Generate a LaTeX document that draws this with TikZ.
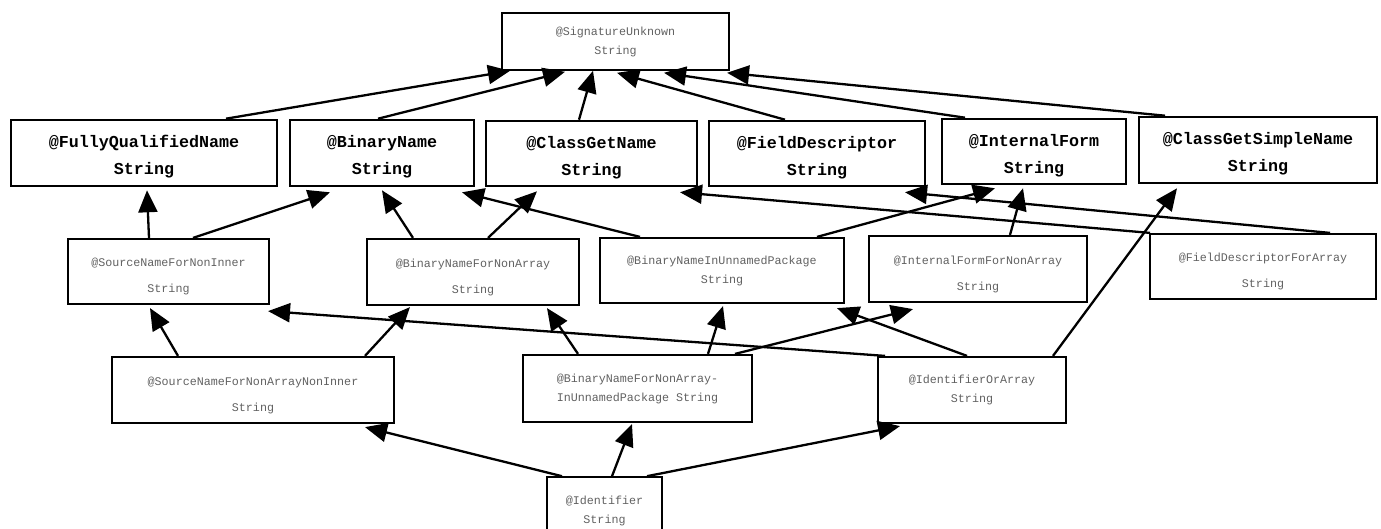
\documentclass[tikz,border=0pt]{standalone}
\usepackage{fontspec}
\setmonofont{Liberation Mono}
\usetikzlibrary{arrows.meta}

\tikzset{
  every node/.style={align=center, inner sep=0pt},
  namebox/.style={draw, line width=2.6pt, text=black,
    font=\ttfamily\bfseries\fontsize{16.7}{27}\selectfont,
    execute at begin node={\rule{0pt}{47.5pt}}},
  subbox/.style={draw, line width=2.2pt, text=black!62,
    font=\ttfamily\fontsize{11.7}{26}\selectfont,
    execute at begin node={\rule{0pt}{44.5pt}}},
  subboxtight/.style={draw, line width=2.2pt, text=black!62,
    font=\ttfamily\fontsize{11.7}{19}\selectfont},
  endbox/.style={subboxtight, line width=1.6pt},
  link/.style={line width=2.3pt, -{Triangle[length=22pt,width=19pt]}},
}

\begin{document}
\begin{tikzpicture}[x=1pt, y=-1pt]
\useasboundingbox (0,0) rectangle (1381,529);
\clip (0,0) rectangle (1381,529);

% top of the hierarchy
\node[endbox, minimum width=227pt, minimum height=57pt] (sig) at (615.5,41.5)
  {@SignatureUnknown\\String};

% main qualifiers
\node[namebox, minimum width=266pt, minimum height=66pt] (fqn) at (144,153)
  {@FullyQualifiedName\\String};
\node[namebox, minimum width=184pt, minimum height=66pt] (bn) at (382,153)
  {@BinaryName\\String};
\node[namebox, minimum width=211pt, minimum height=65pt] (cgn) at (591.5,153.5)
  {@ClassGetName\\String};
\node[namebox, minimum width=216pt, minimum height=65pt] (fd) at (817,153.5)
  {@FieldDescriptor\\String};
\node[namebox, minimum width=184pt, minimum height=65pt] (inf) at (1034,151.5)
  {@InternalForm\\String};
\node[namebox, minimum width=238pt, minimum height=66pt] (cgsn) at (1258,150)
  {@ClassGetSimpleName\\String};

% intermediate qualifiers
\node[subbox, minimum width=201pt, minimum height=65pt] (sn) at (168.5,271.5)
  {@SourceNameForNonInner\\String};
\node[subbox, minimum width=212pt, minimum height=66pt] (bnna) at (473,272)
  {@BinaryNameForNonArray\\String};
\node[subboxtight, minimum width=244pt, minimum height=65pt] (bniup) at (722,270.5)
  {@BinaryNameInUnnamedPackage\\String};
\node[subbox, minimum width=218pt, minimum height=66pt] (ifna) at (978,269)
  {@InternalFormForNonArray\\String};
\node[subbox, minimum width=226pt, minimum height=65pt] (fda) at (1263,266.5)
  {@FieldDescriptorForArray\\String};

\node[subbox, minimum width=282pt, minimum height=66pt] (snna) at (253,390)
  {@SourceNameForNonArrayNonInner\\String};
\node[subboxtight, minimum width=229pt, minimum height=67pt] (bnnaiup) at (637.5,388.5)
  {@BinaryNameForNonArray-\\InUnnamedPackage String};
\node[subboxtight, minimum width=188pt, minimum height=66pt] (ioa) at (972,390)
  {@IdentifierOrArray\\String};

% bottom of the hierarchy
\node[endbox, minimum width=115pt, minimum height=68pt] (id) at (604.5,511)
  {@Identifier\\String};

% subtype arrows into @SignatureUnknown
\draw[link] ([xshift=82pt]fqn.north)   -- ([xshift=-105.5pt]sig.south);
\draw[link] ([xshift=-4pt]bn.north)    -- ([xshift=-50.5pt,yshift=-1pt]sig.south);
\draw[link] ([xshift=-12.5pt]cgn.north) -- ([xshift=-22.5pt]sig.south);
\draw[link] ([xshift=-32pt]fd.north)   -- ([xshift=1.5pt,yshift=-2pt]sig.south);
\draw[link] ([xshift=-69pt]inf.north)  -- ([xshift=48.5pt,yshift=-2pt]sig.south);
\draw[link] ([xshift=-93pt]cgsn.north) -- ([xshift=111.5pt,yshift=-2pt]sig.south);

% second level
\draw[link] ([xshift=-19.5pt]sn.north)  -- ([xshift=3pt,yshift=-3pt]fqn.south);
\draw[link] ([xshift=24.5pt]sn.north)   -- ([xshift=-52pt,yshift=-5pt]bn.south);
\draw[link] ([xshift=-60pt]bnna.north)  -- ([xshift=0pt,yshift=-3pt]bn.south);
\draw[link] ([xshift=15pt]bnna.north)   -- ([xshift=-54.5pt,yshift=-4pt]cgn.south);
\draw[link] ([xshift=-82pt]bniup.north) -- ([xshift=80pt,yshift=-5pt]bn.south);
\draw[link] ([xshift=95pt]bniup.north)  -- ([xshift=-39pt,yshift=-3pt]inf.south);
\draw[link] ([xshift=32pt]ifna.north)   -- ([xshift=-11pt,yshift=-3pt]inf.south);
\draw[link] ([xshift=67pt]fda.north)    -- ([xshift=88pt,yshift=-5pt]fd.south);
\draw[link] ([xshift=-113pt]fda.north)  -- ([xshift=88.5pt,yshift=-5pt]cgn.south);

% third level
\draw[link] ([xshift=-75pt]snna.north)     -- ([xshift=-18.5pt,yshift=-3pt]sn.south);
\draw[link] ([xshift=112pt]snna.north)     -- ([xshift=-63pt,yshift=-1pt]bnna.south);
\draw[link] ([xshift=-59.5pt]bnnaiup.north) -- ([xshift=74pt,yshift=-2pt]bnna.south);
\draw[link] ([xshift=70.5pt]bnnaiup.north) -- ([xshift=1pt,yshift=-2pt]bniup.south);
\draw[link] ([xshift=97.5pt]bnnaiup.north) -- ([xshift=-65pt,yshift=-6pt]ifna.south);
\draw[link] ([xshift=-87pt]ioa.north)      -- ([xshift=99.5pt,yshift=-6pt]sn.south);
\draw[link] ([xshift=-5pt]ioa.north)       -- ([xshift=115pt,yshift=-4pt]bniup.south);
\draw[link] ([xshift=81pt]ioa.north)       -- ([xshift=-81pt,yshift=-4pt]cgsn.south);

% from @Identifier
\draw[link] ([xshift=-42.5pt]id.north) -- ([xshift=112pt,yshift=-3pt]snna.south);
\draw[link] ([xshift=7.5pt]id.north)   -- ([xshift=-5.5pt,yshift=-1pt]bnnaiup.south);
\draw[link] ([xshift=42.5pt]id.north)  -- ([xshift=-72pt,yshift=-2pt]ioa.south);
\end{tikzpicture}
\end{document}
